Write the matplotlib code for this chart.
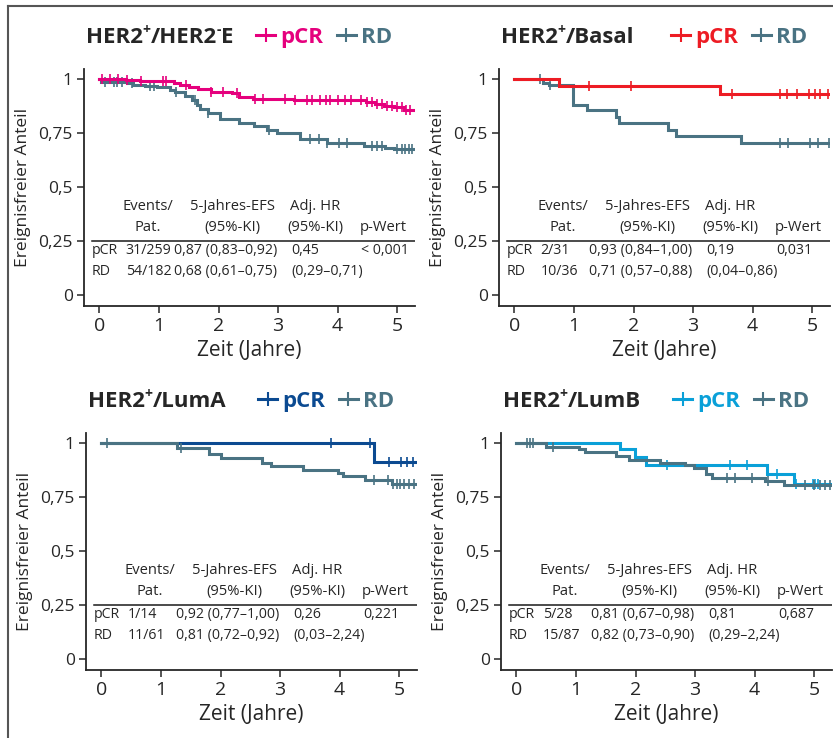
import numpy as np
import matplotlib
matplotlib.use("Agg")
import matplotlib.pyplot as plt
from matplotlib.lines import Line2D

plt.rcParams['font.family'] = ['Open Sans', 'DejaVu Sans']

# ---------------- data ----------------
# top left: HER2+/HER2-E
tl_pcr_t = [0, 0.45, 0.68, 1.25, 1.35, 1.50, 1.65, 1.87, 2.22, 2.35, 2.58, 3.26, 4.48, 4.62, 4.78, 4.95, 5.12]
tl_pcr_s = [1.0, 0.996, 0.991, 0.984, 0.975, 0.965, 0.955, 0.941, 0.934, 0.918, 0.908, 0.902, 0.895, 0.886, 0.878, 0.869, 0.858]
tl_pcr_c = [0.04, 0.18, 0.31, 0.46, 0.70, 1.07, 1.11, 1.46, 1.87, 2.07, 2.31, 2.62, 2.75, 3.12, 3.29, 3.49,
            3.57, 3.71, 3.80, 3.88, 4.0, 4.12, 4.22, 4.40, 4.50, 4.58, 4.66, 4.75, 4.83, 4.92, 5.0, 5.08, 5.15, 5.22]
tl_rd_t = [0, 0.02, 0.46, 0.57, 0.77, 0.96, 1.19, 1.27, 1.44, 1.55, 1.64, 1.69, 1.83, 2.03, 2.34, 2.59,
           2.81, 2.98, 3.37, 3.82, 4.44, 4.80, 4.94]
tl_rd_s = [1.0, 0.989, 0.983, 0.975, 0.968, 0.962, 0.952, 0.940, 0.920, 0.905, 0.880, 0.862, 0.842, 0.816,
           0.796, 0.783, 0.765, 0.749, 0.722, 0.704, 0.692, 0.682, 0.675]
tl_rd_c = [0.10, 0.24, 0.30, 0.38, 0.54, 0.85, 0.92, 1.29, 1.61, 1.83, 2.84, 3.54, 3.68, 3.82, 4.02, 4.16,
           4.58, 4.66, 4.75, 5.0, 5.08, 5.14, 5.20, 5.25]

# top right: HER2+/Basal
tr_pcr_t = [0, 0.75, 3.45]
tr_pcr_s = [1.0, 0.967, 0.93]
tr_pcr_c = [1.25, 1.95, 3.65, 4.46, 4.57, 4.75, 4.94, 5.05, 5.13, 5.27]
tr_rd_t = [0, 0.48, 0.58, 0.99, 1.21, 1.70, 1.76, 2.58, 2.72, 3.81]
tr_rd_s = [1.0, 0.982, 0.971, 0.882, 0.855, 0.823, 0.797, 0.766, 0.735, 0.705]
tr_rd_c = [0.43, 0.59, 4.46, 4.59, 4.96, 5.10, 5.29]

# bottom left: HER2+/LumA
bl_pcr_t = [0, 4.57]
bl_pcr_s = [1.0, 0.913]
bl_pcr_c = [3.85, 4.51, 4.83, 5.03, 5.14, 5.24]
bl_rd_t = [0, 1.27, 1.80, 2.0, 2.69, 2.85, 3.39, 3.97, 4.06, 4.42, 4.88]
bl_rd_s = [1.0, 0.977, 0.948, 0.932, 0.91, 0.893, 0.876, 0.861, 0.846, 0.829, 0.811]
bl_rd_c = [0.10, 1.34, 4.57, 4.81, 4.90, 4.96, 5.01, 5.09, 5.17, 5.25]

# bottom right: HER2+/LumB
br_pcr_t = [0, 1.74, 1.99, 2.18, 4.20, 4.67]
br_pcr_s = [1.0, 0.971, 0.937, 0.898, 0.859, 0.813]
br_pcr_c = [2.53, 3.59, 3.88, 4.37, 4.69, 4.98, 5.02, 5.06]
br_rd_t = [0, 0.50, 1.05, 1.15, 1.68, 1.89, 2.41, 2.83, 2.98, 3.18, 3.28, 4.17, 4.50]
br_rd_s = [1.0, 0.983, 0.975, 0.957, 0.941, 0.923, 0.91, 0.898, 0.886, 0.855, 0.841, 0.824, 0.808]
br_rd_c = [0.17, 0.22, 0.28, 0.62, 3.54, 3.67, 3.95, 4.22, 4.85, 4.99, 5.10, 5.18, 5.27]

# titles as (text, superscript?) pieces
titles = [[('HER2', 0), ('+', 1), ('/HER2', 0), ('-', 1), ('E', 0)],
          [('HER2', 0), ('+', 1), ('/Basal', 0)],
          [('HER2', 0), ('+', 1), ('/LumA', 0)],
          [('HER2', 0), ('+', 1), ('/LumB', 0)]]
pcr_colors = ['#E5007D', '#ED1C24', '#0B4A91', '#0AA0D8']
rd_color = '#4A7383'
t_end = [5.26, 5.30, 5.30, 5.30]

tab_header1 = ['Events/', '5-Jahres-EFS', 'Adj. HR', '']
tab_header2 = ['Pat.', '(95%-KI)', '(95%-KI)', 'p-Wert']
tab_pcr = [['pCR', '31/259', '0,87 (0,83–0,92)', '0,45', '< 0,001'],
           ['pCR', '2/31', '0,93 (0,84–1,00)', '0,19', '0,031'],
           ['pCR', '1/14', '0,92 (0,77–1,00)', '0,26', '0,221'],
           ['pCR', '5/28', '0,81 (0,67–0,98)', '0,81', '0,687']]
tab_rd = [['RD', '54/182', '0,68 (0,61–0,75)', '(0,29–0,71)', ''],
          ['RD', '10/36', '0,71 (0,57–0,88)', '(0,04–0,86)', ''],
          ['RD', '11/61', '0,81 (0,72–0,92)', '(0,03–2,24)', ''],
          ['RD', '15/87', '0,82 (0,73–0,90)', '(0,29–2,24)', '']]

curves = [(tl_pcr_t, tl_pcr_s, tl_pcr_c, tl_rd_t, tl_rd_s, tl_rd_c),
          (tr_pcr_t, tr_pcr_s, tr_pcr_c, tr_rd_t, tr_rd_s, tr_rd_c),
          (bl_pcr_t, bl_pcr_s, bl_pcr_c, bl_rd_t, bl_rd_s, bl_rd_c),
          (br_pcr_t, br_pcr_s, br_pcr_c, br_rd_t, br_rd_s, br_rd_c)]

# ---------------- layout (pixels) ----------------
W, H = 833, 738
fig = plt.figure(figsize=(W / 100, H / 100), dpi=100)
panel_px = [(84, 69), (499, 69), (86, 433), (501, 433)]   # left spine, top
ax_w, ax_h = 331, 237
txt = '#262626'


def km_draw(ax, t, s, c, te, color, z):
    tt = list(t) + [te]
    ss = list(s) + [s[-1]]
    ax.step(tt, ss, where='post', color=color, lw=2.2, zorder=z, solid_joinstyle='miter')
    idx = np.searchsorted(np.array(t), np.array(c), side='right') - 1
    ax.plot(c, np.array(s)[idx], ls='none', marker='|', ms=7.5, mew=1.2, color=color, zorder=z)


def draw_title(ax, parts):
    first = ax.text(0.005, 1.135, parts[0][0], transform=ax.transAxes, fontsize=16,
                    fontweight='bold', ha='left', va='center', color=txt)
    prev = first
    for s, sup in parts[1:]:
        if sup:
            prev = ax.annotate(s, xy=(1, 0.52), xycoords=(prev, first), fontsize=10,
                               fontweight='bold', ha='left', va='bottom', color=txt)
        else:
            prev = ax.annotate(s, xy=(1, 0), xycoords=(prev, first), fontsize=16,
                               fontweight='bold', ha='left', va='bottom', color=txt)


for i, (lx, ty) in enumerate(panel_px):
    ax = fig.add_axes([lx / W, 1 - (ty + ax_h) / H, ax_w / W, ax_h / H])
    pt, ps, pc, rt, rs, rc = curves[i]
    # upper row: pCR drawn on top, lower row: RD on top
    zp, zr = (4, 3) if i < 2 else (3, 4)
    km_draw(ax, rt, rs, rc, t_end[i], rd_color, zr)
    km_draw(ax, pt, ps, pc, t_end[i], pcr_colors[i], zp)

    ax.set_xlim(-0.26, 5.30)
    ax.set_ylim(-0.05, 1.047)
    ax.set_xticks(range(6))
    ax.set_yticks([0, 0.25, 0.5, 0.75, 1])
    ax.set_yticklabels(['0', '0,25', '0,5', '0,75', '1'])
    ax.tick_params(axis='y', labelsize=12.5, length=5, width=1.1, colors=txt, pad=3)
    ax.tick_params(axis='x', labelsize=14, length=5, width=1.1, colors=txt, pad=3)
    for sp in ['top', 'right']:
        ax.spines[sp].set_visible(False)
    for sp in ['left', 'bottom']:
        ax.spines[sp].set_color(txt)
        ax.spines[sp].set_linewidth(1.3)
    ax.set_facecolor('none')

    ax.set_xlabel('Zeit (Jahre)', fontsize=15, color=txt)
    ax.xaxis.set_label_coords(0.5, -0.142)
    ax.set_ylabel('Ereignisfreier Anteil', fontsize=12.5, color=txt)
    ax.yaxis.set_label_coords(-0.16, 0.5)

    # table
    fs = 10.6
    for x, h1, h2 in zip([0.81, 2.23, 3.62], tab_header1[:3], tab_header2[:3]):
        ax.text(x, 0.41, h1, ha='center', va='center', fontsize=fs, color=txt)
        ax.text(x, 0.315, h2, ha='center', va='center', fontsize=fs, color=txt)
    ax.text(4.37, 0.315, tab_header2[3], ha='left', va='center', fontsize=fs, color=txt)
    ax.axhline(0.25, xmin=0.024, xmax=1.0, color='#1a1a1a', lw=1.1, zorder=1)
    for row, y in [(tab_pcr[i], 0.205), (tab_rd[i], 0.11)]:
        for x, cell in zip([-0.13, 0.44, 1.26, 3.22, 4.40], row):
            ax.text(x, y, cell, ha='left', va='center', fontsize=10.2, color=txt)

    # title + legend
    draw_title(ax, titles[i])
    handles = [Line2D([], [], color=pcr_colors[i], lw=2.2, marker='|', ms=10, mew=1.5),
               Line2D([], [], color=rd_color, lw=2.2, marker='|', ms=10, mew=1.5)]
    leg = ax.legend(handles, ['pCR', 'RD'], ncol=2, frameon=False, loc='center left',
                    bbox_to_anchor=(0.52, 1.135), prop={'size': 16, 'weight': 'bold'},
                    handlelength=0.85, handletextpad=0.25, columnspacing=0.6,
                    borderpad=0, borderaxespad=0, numpoints=1)
    for t_, c_ in zip(leg.get_texts(), [pcr_colors[i], rd_color]):
        t_.set_color(c_)

# outer frame lines (left and top)
fig.add_artist(Line2D([8 / W, 8 / W], [0, 1 - 6 / H], transform=fig.transFigure, color='#555555', lw=1.5))
fig.add_artist(Line2D([8 / W, 1], [1 - 6 / H, 1 - 6 / H], transform=fig.transFigure, color='#555555', lw=1.5))

fig.savefig('out.png', dpi=100)
